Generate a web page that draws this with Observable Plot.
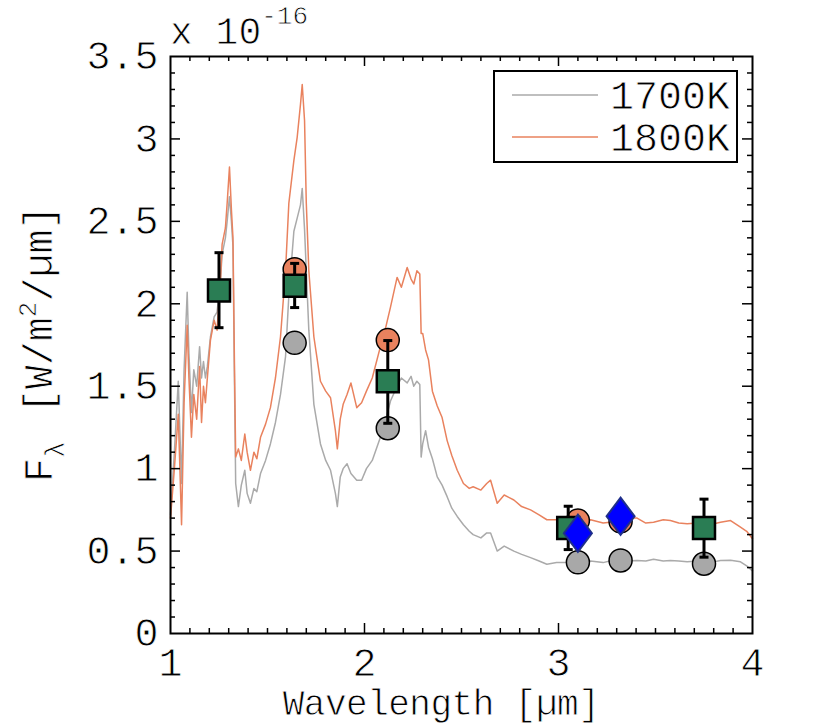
<!DOCTYPE html>
<html><head><meta charset="utf-8">
<script src="https://cdn.jsdelivr.net/npm/d3@7"></script>
<script src="https://cdn.jsdelivr.net/npm/@observablehq/plot@0.6"></script>
<style>body{margin:0;background:#fff} svg text{stroke:#fff;stroke-width:0.8px;paint-order:normal}</style>
</head><body><div id="chart"></div>
<script>
// ---- spectra (units of 1e-16 W/m^2/um) ----
const wavelength = [1.000,1.020,1.040,1.057,1.070,1.086,1.095,1.108,1.120,1.135,1.150,1.160,1.170,1.180,1.190,1.206,1.225,1.240,1.258,1.266,1.283,1.292,1.304,1.314,1.322,1.330,1.336,1.350,1.365,1.383,1.395,1.412,1.430,1.445,1.464,1.490,1.515,1.541,1.567,1.593,1.610,1.636,1.653,1.670,1.679,1.691,1.700,1.713,1.739,1.773,1.800,1.825,1.850,1.860,1.875,1.890,1.910,1.930,1.960,1.985,2.010,2.040,2.082,2.110,2.134,2.168,2.190,2.220,2.240,2.254,2.270,2.285,2.292,2.300,2.315,2.330,2.350,2.375,2.400,2.426,2.450,2.478,2.510,2.540,2.560,2.600,2.630,2.650,2.684,2.720,2.770,2.810,2.856,2.900,2.940,2.990,3.050,3.100,3.165,3.230,3.300,3.350,3.405,3.450,3.490,3.540,3.577,3.620,3.663,3.720,3.780,3.835,3.887,3.938,3.970,4.000];
const flux1800 = [0.70,1.00,1.33,0.66,1.40,1.87,1.55,1.19,1.45,1.30,1.62,1.28,1.50,1.40,1.55,1.78,1.90,1.84,2.15,2.36,2.46,2.61,2.83,2.57,2.40,1.60,1.07,1.12,1.05,1.21,1.10,0.99,1.10,1.06,1.19,1.27,1.37,1.55,1.80,2.20,2.61,2.87,3.01,3.21,3.33,3.11,2.61,2.20,1.80,1.53,1.47,1.43,1.23,1.12,1.30,1.39,1.45,1.52,1.37,1.40,1.47,1.55,1.74,1.86,1.98,2.16,2.10,2.22,2.15,2.12,2.20,2.18,1.82,1.82,1.72,1.66,1.47,1.38,1.31,1.17,1.08,0.99,0.91,0.88,0.89,0.87,0.91,0.93,0.79,0.84,0.81,0.77,0.75,0.72,0.69,0.69,0.67,0.68,0.69,0.67,0.68,0.70,0.70,0.67,0.675,0.69,0.685,0.67,0.665,0.67,0.66,0.675,0.685,0.645,0.62,0.575];
const flux1700 = [0.72,1.10,1.53,0.91,1.60,2.07,1.70,1.34,1.60,1.50,1.74,1.55,1.65,1.55,1.62,1.80,1.92,1.95,2.15,2.30,2.40,2.50,2.65,2.50,2.35,1.50,0.91,0.77,0.90,0.99,0.85,0.79,0.88,0.86,0.97,1.05,1.15,1.28,1.45,1.68,2.05,2.44,2.52,2.60,2.70,2.45,2.20,1.84,1.39,1.15,1.05,0.99,0.85,0.77,0.95,1.00,1.03,0.97,0.93,0.93,1.00,1.05,1.19,1.30,1.41,1.50,1.55,1.52,1.56,1.50,1.53,1.51,1.07,1.15,1.23,1.13,1.06,0.95,0.90,0.83,0.76,0.71,0.66,0.62,0.60,0.58,0.61,0.61,0.50,0.53,0.50,0.48,0.46,0.44,0.42,0.43,0.43,0.43,0.44,0.43,0.45,0.44,0.443,0.44,0.45,0.44,0.443,0.44,0.435,0.44,0.43,0.443,0.445,0.435,0.41,0.38];

// ---- photometry ----
const obsWl   = [1.25, 1.64, 2.12, 3.05, 3.75];
const obsFlux = [2.08, 2.11, 1.53, 0.64, 0.64];
const obsLo   = [1.855, 1.977, 1.275, 0.509, 0.463];
const obsHi   = [2.31, 2.245, 1.777, 0.772, 0.815];
const m1800Wl   = [1.64, 2.12, 3.10, 3.32];
const m1800Flux = [2.21, 1.78, 0.685, 0.68];
const m1700Wl   = [1.64, 2.12, 3.10, 3.32, 3.75];
const m1700Flux = [1.763, 1.245, 0.432, 0.443, 0.423];
const irsWl   = [3.10, 3.32];
const irsFlux = [0.608, 0.711];

const xTicks = [1, 2, 3, 4];
const yTicks = [0, 0.5, 1, 1.5, 2, 2.5, 3, 3.5];
const seriesNames = ["1700K", "1800K"];
const seriesColors = ["#aaaaaa", "#e9825e"];

const spec1700 = wavelength.map((w, i) => ({w, f: flux1700[i]}));
const spec1800 = wavelength.map((w, i) => ({w, f: flux1800[i]}));
const obs = obsWl.map((w, i) => ({w, f: obsFlux[i], lo: obsLo[i], hi: obsHi[i]}));
const m1800 = m1800Wl.map((w, i) => ({w, f: m1800Flux[i]}));
const m1700 = m1700Wl.map((w, i) => ({w, f: m1700Flux[i]}));
const irs = irsWl.map((w, i) => ({w, f: irsFlux[i]}));

const capSymbol = {draw(ctx, size) { const r = Math.sqrt(size / Math.PI); ctx.moveTo(-r, 0); ctx.lineTo(r, 0); }};
const diamondSymbol = {draw(ctx, size) { const r = Math.sqrt(size / Math.PI); ctx.moveTo(0, -r * 1.33); ctx.lineTo(r, 0); ctx.lineTo(0, r * 1.33); ctx.lineTo(-r, 0); ctx.closePath(); }};

const W = 830, H = 727, mL = 170, mR = 78, mT = 56, mB = 94;
const pW = W - mL - mR, pH = H - mT - mB;
const xMinor = d3.range(11, 40).map(d => d / 10).filter(d => !xTicks.includes(d));
const xMajor = xTicks.slice(1, -1);
const yMinor = d3.range(1, 35).map(d => d / 10).filter(d => !yTicks.some(t => Math.abs(t - d) < 1e-9));
const yMajor = yTicks.slice(1, -1);
const tk = {stroke: "black", strokeWidth: 1.5};
const fmt = d3.format("~g");

const chart = Plot.plot({
  width: W, height: H, marginLeft: mL, marginRight: mR, marginTop: mT, marginBottom: mB,
  x: {domain: [1, 4]},
  y: {domain: [0, 3.5]},
  style: {fontFamily: "'Liberation Mono', 'Courier New', monospace", fontSize: "40px", background: "white", color: "black"},
  marks: [
    Plot.line(spec1700, {x: "w", y: "f", stroke: seriesColors[0], strokeWidth: 1.5}),
    Plot.line(spec1800, {x: "w", y: "f", stroke: seriesColors[1], strokeWidth: 1.5}),
    Plot.dot(m1700, {x: "w", y: "f", r: 11.5, fill: "#a8a8a8", stroke: "black", strokeWidth: 1.5}),
    Plot.dot(m1800, {x: "w", y: "f", r: 11.5, fill: "#e9825e", stroke: "black", strokeWidth: 1.5}),
    Plot.ruleX(obs, {x: "w", y1: "lo", y2: "hi", stroke: "black", strokeWidth: 3}),
    Plot.dot(obs, {x: "w", y: "lo", symbol: capSymbol, r: 4.5, fill: "none", stroke: "black", strokeWidth: 3}),
    Plot.dot(obs, {x: "w", y: "hi", symbol: capSymbol, r: 4.5, fill: "none", stroke: "black", strokeWidth: 3}),
    Plot.dot(obs, {x: "w", y: "f", symbol: "square", r: 12.4, fill: "#2a7d54", stroke: "black", strokeWidth: 2.5}),
    Plot.dot(irs, {x: "w", y: "f", symbol: diamondSymbol, r: 14, fill: "#0000ff", stroke: "#1f2f8a", strokeWidth: 2}),
    Plot.tickX(xMinor, {x: d => d, insetTop: pH - 5, ...tk}),
    Plot.tickX(xMinor, {x: d => d, insetBottom: pH - 5, ...tk}),
    Plot.tickX(xMajor, {x: d => d, insetTop: pH - 10, ...tk}),
    Plot.tickX(xMajor, {x: d => d, insetBottom: pH - 10, ...tk}),
    Plot.tickY(yMinor, {y: d => d, insetRight: pW - 5, ...tk}),
    Plot.tickY(yMinor, {y: d => d, insetLeft: pW - 5, ...tk}),
    Plot.tickY(yMajor, {y: d => d, insetRight: pW - 10, ...tk}),
    Plot.tickY(yMajor, {y: d => d, insetLeft: pW - 10, ...tk}),
    Plot.frame({stroke: "black", strokeWidth: 2}),
    Plot.axisX({ticks: xTicks, tickFormat: fmt, tickSize: 0, tickPadding: 14, label: null}),
    Plot.axisY({ticks: yTicks, tickFormat: fmt, tickSize: 0, tickPadding: 12, label: null})
  ]
});
document.getElementById("chart").append(chart);

const svg = d3.select(chart);
const ff = "'Liberation Mono', 'Courier New', monospace";
// exponent label
const ex = svg.append("text").attr("x", 170).attr("y", 44).attr("text-anchor", "start").attr("font-family", ff).attr("font-size", 38).attr("fill", "black");
ex.append("tspan").text("x 10");
ex.append("tspan").attr("font-size", 26).attr("dy", -20).text("-16");
// x label
svg.append("text").attr("x", 441).attr("y", 715).attr("text-anchor", "middle")
  .attr("font-family", ff).attr("font-size", 36).attr("letter-spacing", -0.5).attr("fill", "black").text("Wavelength [µm]");
// y label
const yl = svg.append("text").attr("transform", "translate(52,482) rotate(-90)").attr("text-anchor", "start").attr("font-family", ff).attr("font-size", 40).attr("fill", "black");
yl.append("tspan").text("F");
yl.append("tspan").attr("font-size", 28).attr("dy", 12).text("λ");
yl.append("tspan").attr("dy", -12).attr("dx", 28).text("[W/m");
yl.append("tspan").attr("font-size", 26).attr("dy", -16).text("2");
yl.append("tspan").attr("dy", 16).text("/µm]");
// legend
const lg = svg.append("g");
lg.append("rect").attr("x", 494).attr("y", 71).attr("width", 243).attr("height", 91).attr("fill", "white").attr("stroke", "black").attr("stroke-width", 2);
seriesNames.forEach((name, i) => {
  const yy = 95 + i * 42;
  lg.append("line").attr("x1", 512).attr("x2", 598).attr("y1", yy).attr("y2", yy).attr("stroke", seriesColors[i]).attr("stroke-width", 1.5);
  lg.append("text").attr("x", 730).attr("y", yy + 14).attr("text-anchor", "end").attr("font-family", ff).attr("font-size", 40).attr("fill", "black").text(name);
});
</script>
</body></html>
